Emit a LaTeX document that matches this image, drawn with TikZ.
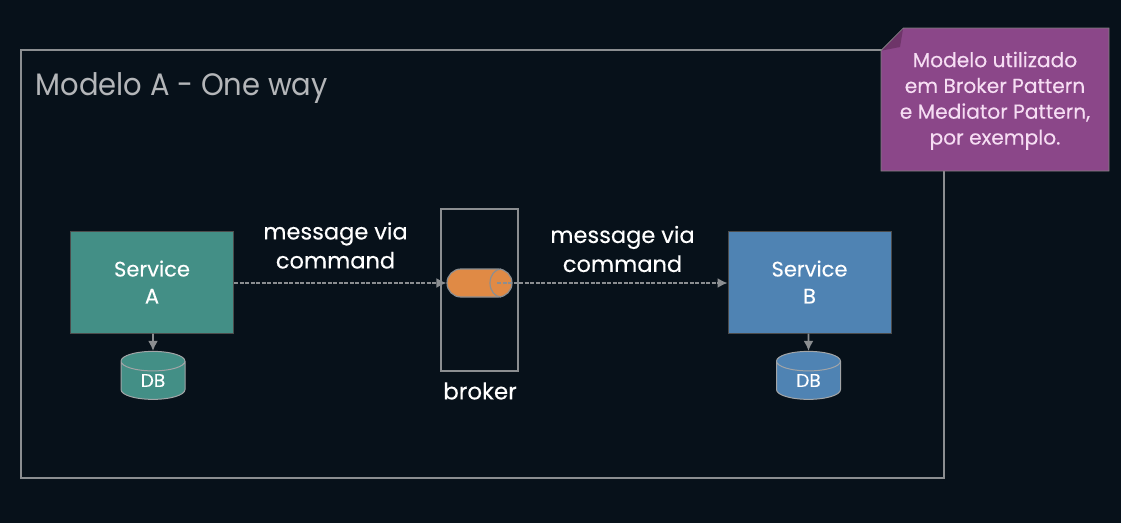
\documentclass[tikz,border=0pt]{standalone}
\usepackage{fontspec}
\setmainfont{Poppins}[FakeBold=0.25]
\newfontfamily\titlefont{Poppins}[FakeStretch=0.935]
\usetikzlibrary{shapes.geometric,shapes.misc,arrows.meta}
\definecolor{bgdark}{HTML}{07111A}
\definecolor{framegray}{HTML}{8B8E91}
\definecolor{titlegray}{HTML}{B4B6B9}
\definecolor{svcgreen}{HTML}{438F86}
\definecolor{svcblue}{HTML}{4F83B3}
\definecolor{pipeorange}{HTML}{E08A45}
\definecolor{notepurple}{HTML}{8B4789}
\definecolor{notefold}{HTML}{6E3569}
\definecolor{notetext}{HTML}{F6DDF3}
\tikzset{
  svcbox/.style={draw=black!70,line width=1pt,minimum width=163pt,minimum height=102pt,align=center,text=white,font=\fontsize{21}{27}\selectfont},
  dbcyl/.style={cylinder,shape border rotate=90,aspect=0.8,draw=framegray!80,line width=1pt,minimum width=64pt,minimum height=48pt,inner sep=0pt,text=white,font=\fontsize{18.5}{20}\selectfont},
  msglabel/.style={align=center,text=white,font=\fontsize{22.5}{29}\selectfont},
  msgline/.style={draw=framegray,line width=1.7pt,dash pattern=on 4pt off 1.5pt,-{Latex[length=10pt,width=10pt]}},
  dbline/.style={draw=framegray,line width=1.8pt,-{Latex[length=10pt,width=10pt]}},
  framebox/.style={draw=framegray,line width=2pt,fill=none}
}
\begin{document}
\begin{tikzpicture}[x=1pt,y=-1pt]
\useasboundingbox[fill=bgdark] (0,0) rectangle (1121,523);
% outer frame
\node[framebox,minimum width=923pt,minimum height=428pt,inner sep=0pt] (frame) at (482,264) {};
\node[anchor=west,text=titlegray,font=\titlefont\fontsize{31}{36}\selectfont] (title) at (32,88) {Modelo A - One way};
% services
\node[svcbox,fill=svcgreen] (svca) at (152,282) {Service\\A};
\node[svcbox,fill=svcblue] (svcb) at (809.5,282) {Service\\B};
\node[dbcyl,fill=svcgreen] (dba) at (153,380.5) {DB};
\node[dbcyl,fill=svcblue] (dbb) at (808.5,380.5) {DB};
\draw[dbline] (svca.south-|dba) -- (dba.north);
\draw[dbline] (svcb.south-|dbb) -- (dbb.north);
% broker
\node[framebox,minimum width=77pt,minimum height=162pt,inner sep=0pt] (brokerbox) at (479.5,290) {};
\node[text=white,font=\fontsize{23}{26}\selectfont] (brokerlabel) at (480,391) {broker};
\node[rounded rectangle,draw=framegray,line width=1.2pt,fill=pipeorange,minimum width=65pt,minimum height=28pt,inner sep=0pt] (pipe) at (479.5,283) {};
\draw[framegray,line width=1.2pt] (501,269) arc[start angle=90,end angle=270,x radius=11pt,y radius=14pt];
\coordinate (pipeout) at (497,283);
\draw[msgline] (svca.east|-pipeout) -- (pipe.west|-pipeout);
\draw[msgline] (pipeout) -- (svcb.west|-pipeout);
\node[msglabel] (msga) at (335.5,245.5) {message via\\command};
\node[msglabel] (msgb) at (622.5,249) {message via\\command};
% note
\node[chamfered rectangle,chamfered rectangle corners=north west,chamfered rectangle xsep=11.5pt,chamfered rectangle ysep=11pt,draw=black!50,line width=0.8pt,fill=notepurple,minimum width=228pt,minimum height=143pt,inner sep=0pt,align=center,text=notetext,font=\fontsize{20.2}{25.8}\selectfont] (note) at (995,99.5) {\strut\\[-26pt]Modelo utilizado\\em Broker Pattern\\e Mediator Pattern,\\por exemplo.};
\coordinate (foldb) at (882,50.5);
\coordinate (foldt) at (903,29);
\fill[notefold] (foldb) -- (foldt) -- (900,47) -- cycle;
\end{tikzpicture}
\end{document}
